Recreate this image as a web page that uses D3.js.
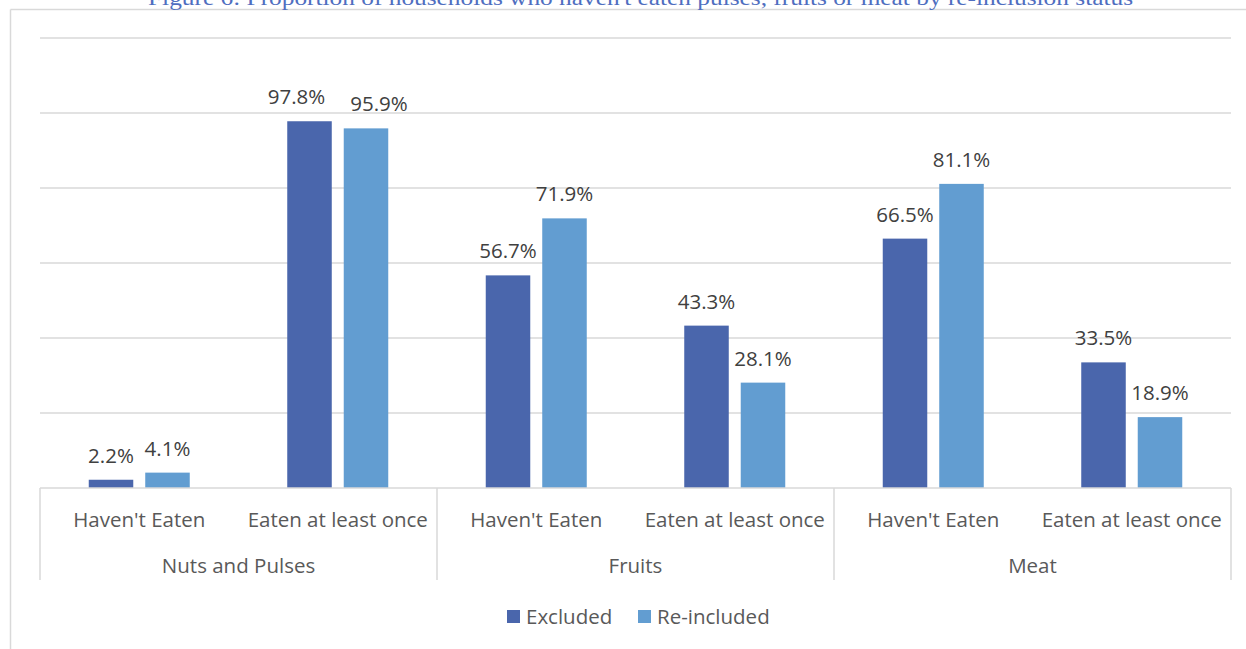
<!DOCTYPE html>
<html>
<head>
<meta charset="utf-8">
<script src="https://cdn.jsdelivr.net/npm/d3@7"></script>
<style>
  html, body { margin: 0; padding: 0; background: #ffffff; }
  svg { display: block; }
</style>
</head>
<body>
<svg id="chart" width="1246" height="649"></svg>
<script>
// Food groups and consumption answers (two-level category axis)
const groups = ["Nuts and Pulses", "Fruits", "Meat"];
const answers = ["Haven't Eaten", "Eaten at least once"];
const series = ["Excluded", "Re-included"];
// Percentages per (group, answer), in order of groups x answers
const excluded = [2.2, 97.8, 56.7, 43.3, 66.5, 33.5];
const reincluded = [4.1, 95.9, 71.9, 28.1, 81.1, 18.9];
const yTicks = [0, 20, 40, 60, 80, 100, 120];
const colors = ["#4A66AC", "#629DD1"];

const title = "Figure 6: Proportion of households who haven't eaten pulses, fruits or meat by re-inclusion status";

const svg = d3.select("#chart");
const font = "'Open Sans', 'Liberation Sans', sans-serif";
const fs = 20.5;

const plot = { left: 40, right: 1231, top: 38, bottom: 488 };

// Outer frame (top and left edges visible)
svg.append("line").attr("x1", 10.5).attr("x2", 1246).attr("y1", 9.5).attr("y2", 9.5)
  .attr("stroke", "#d9d9d9").attr("stroke-width", 1.5);
svg.append("line").attr("x1", 10.5).attr("x2", 10.5).attr("y1", 9.5).attr("y2", 649)
  .attr("stroke", "#d9d9d9").attr("stroke-width", 1.5);

// Title above the frame
svg.append("text")
  .attr("x", 148).attr("y", 5)
  .attr("textLength", 985).attr("lengthAdjust", "spacingAndGlyphs")
  .attr("font-family", "'Liberation Serif', 'Times New Roman', serif")
  .attr("font-size", 22).attr("fill", "#4F6EC0")
  .text(title);

// Build rows of data
const cats = [];
groups.forEach((g, gi) => answers.forEach((a, ai) => {
  const i = gi * answers.length + ai;
  cats.push({ key: i, group: g, answer: a, values: [excluded[i], reincluded[i]] });
}));

const x0 = d3.scaleBand().domain(cats.map(d => d.key)).range([plot.left, plot.right]);
const x1 = d3.scaleBand().domain(series).range([0, x0.bandwidth()])
  .paddingInner(0.212).paddingOuter(0.863);
const y = d3.scaleLinear().domain([0, 120]).range([plot.bottom, plot.top]);

// Gridlines
svg.append("g").selectAll("line").data(yTicks.slice(1)).join("line")
  .attr("x1", plot.left).attr("x2", plot.right)
  .attr("y1", d => y(d)).attr("y2", d => y(d))
  .attr("stroke", "#d9d9d9").attr("stroke-width", 1.5);

// Bars
const cg = svg.append("g").selectAll("g").data(cats).join("g")
  .attr("transform", d => `translate(${x0(d.key)},0)`);
cg.selectAll("rect").data(d => d.values.map((v, i) => ({ s: series[i], v, i }))).join("rect")
  .attr("x", d => x1(d.s)).attr("width", x1.bandwidth())
  .attr("y", d => y(d.v)).attr("height", d => y(0) - y(d.v))
  .attr("fill", d => colors[d.i]);

// Value labels
cg.each(function () {
  const labels = d3.select(this).selectAll("text")
    .data(d => d.values.map((v, i) => ({ s: series[i], v, i }))).join("text")
    .attr("x", d => x1(d.s) + x1.bandwidth() / 2)
    .attr("y", d => y(d.v) - 17)
    .attr("text-anchor", "middle")
    .attr("font-family", font).attr("font-size", fs).attr("fill", "#404040")
    .text(d => d.v.toFixed(1) + "%");
  // push apart the pair of labels when they would collide
  const nodes = labels.nodes();
  const a = nodes[0], b = nodes[1];
  const ya = +a.getAttribute("y"), yb = +b.getAttribute("y");
  const xa = +a.getAttribute("x"), xb = +b.getAttribute("x");
  const half = (a.getComputedTextLength() + b.getComputedTextLength()) / 2;
  if (Math.abs(ya - yb) < fs && xb - xa < half + 2) {
    const shift = (half + 25 - (xb - xa)) / 2;
    a.setAttribute("x", xa - shift);
    b.setAttribute("x", xb + shift);
  }
});

// Category axis: baseline and group dividers
svg.append("line").attr("x1", plot.left).attr("x2", plot.right)
  .attr("y1", plot.bottom).attr("y2", plot.bottom)
  .attr("stroke", "#d9d9d9").attr("stroke-width", 1.5);

const groupEdges = groups.map((g, gi) => x0(gi * answers.length)).concat([plot.right]);
svg.append("g").selectAll("line").data(groupEdges).join("line")
  .attr("x1", d => d).attr("x2", d => d)
  .attr("y1", plot.bottom).attr("y2", 580)
  .attr("stroke", "#d9d9d9").attr("stroke-width", 1.5);

// Inner labels
svg.append("g").selectAll("text").data(cats).join("text")
  .attr("x", d => x0(d.key) + x0.bandwidth() / 2)
  .attr("y", 527)
  .attr("text-anchor", "middle")
  .attr("font-family", font).attr("font-size", fs).attr("fill", "#595959")
  .text(d => d.answer);

// Outer labels
svg.append("g").selectAll("text").data(groups).join("text")
  .attr("x", (d, i) => (groupEdges[i] + groupEdges[i + 1]) / 2)
  .attr("y", 573)
  .attr("text-anchor", "middle")
  .attr("font-family", font).attr("font-size", fs).attr("fill", "#595959")
  .text(d => d);

// Legend
const legendX = [507, 638];
const lg = svg.append("g").selectAll("g").data(series).join("g")
  .attr("transform", (d, i) => `translate(${legendX[i]},610)`);
lg.append("rect").attr("width", 13).attr("height", 13).attr("fill", (d, i) => colors[i]);
lg.append("text").attr("x", 19).attr("y", 14)
  .attr("font-family", font).attr("font-size", fs).attr("fill", "#595959")
  .text(d => d);
</script>
</body>
</html>
